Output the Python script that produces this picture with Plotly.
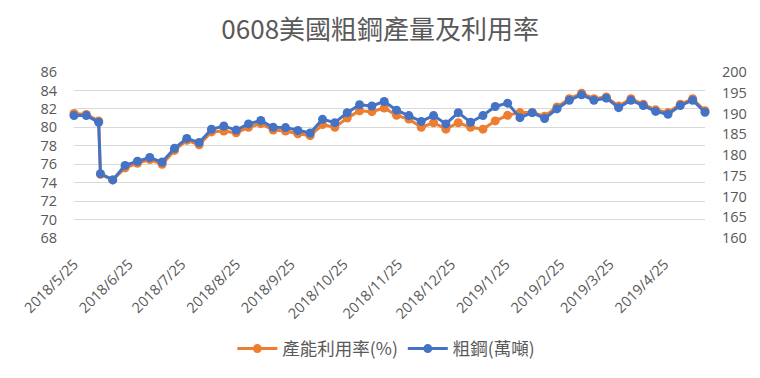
import plotly.graph_objects as go

dates = [
    "2018-05-25", "2018-06-01", "2018-06-08", "2018-06-09", "2018-06-16",
    "2018-06-23", "2018-06-30", "2018-07-07", "2018-07-14", "2018-07-21",
    "2018-07-28", "2018-08-04", "2018-08-11", "2018-08-18", "2018-08-25",
    "2018-09-01", "2018-09-08", "2018-09-15", "2018-09-22", "2018-09-29",
    "2018-10-06", "2018-10-13", "2018-10-20", "2018-10-27", "2018-11-03",
    "2018-11-10", "2018-11-17", "2018-11-24", "2018-12-01", "2018-12-08",
    "2018-12-15", "2018-12-22", "2018-12-29", "2019-01-05", "2019-01-12",
    "2019-01-19", "2019-01-26", "2019-02-02", "2019-02-09", "2019-02-16",
    "2019-02-23", "2019-03-02", "2019-03-09", "2019-03-16", "2019-03-23",
    "2019-03-30", "2019-04-06", "2019-04-13", "2019-04-20", "2019-04-27",
    "2019-05-04", "2019-05-11", "2019-05-18",
]

utilization = [
    81.5, 81.4, 80.7, 74.9, 74.3, 75.6, 76.1, 76.5, 76.0, 77.5,
    78.6, 78.1, 79.5, 79.6, 79.4, 80.0, 80.4, 79.7, 79.6, 79.3,
    79.1, 80.3, 80.0, 81.0, 81.8, 81.7, 82.1, 81.3, 80.9, 80.0,
    80.5, 79.8, 80.5, 80.0, 79.8, 80.7, 81.3, 81.6, 81.6, 81.2,
    82.2, 83.1, 83.7, 83.1, 83.3, 82.3, 83.1, 82.5, 81.9, 81.6,
    82.5, 83.1, 81.8,
]

crude_steel = [
    189.5, 189.5, 187.9, 175.5, 174.0, 177.5, 178.5, 179.4, 178.3, 181.6,
    184.0, 183.0, 186.2, 187.0, 186.0, 187.5, 188.3, 186.7, 186.6, 185.9,
    185.3, 188.6, 187.8, 190.2, 192.1, 191.8, 192.9, 190.8, 189.5, 188.1,
    189.5, 187.5, 190.2, 187.9, 189.5, 191.7, 192.5, 189.0, 190.2, 188.8,
    191.1, 193.2, 194.5, 193.2, 193.7, 191.4, 193.2, 191.9, 190.5, 189.8,
    191.9, 193.2, 190.3,
]

tick_dates = [
    "2018-05-25", "2018-06-25", "2018-07-25", "2018-08-25", "2018-09-25",
    "2018-10-25", "2018-11-25", "2018-12-25", "2019-01-25", "2019-02-25",
    "2019-03-25", "2019-04-25",
]
tick_labels = [
    "2018/5/25", "2018/6/25", "2018/7/25", "2018/8/25", "2018/9/25",
    "2018/10/25", "2018/11/25", "2018/12/25", "2019/1/25", "2019/2/25",
    "2019/3/25", "2019/4/25",
]

ORANGE = "#ED7D31"
BLUE = "#4472C4"
FONT = "Noto Sans CJK TC"
TICKFONT = dict(family="Open Sans", size=14.5, color="#595959")

fig = go.Figure()
fig.add_trace(go.Scatter(
    x=dates, y=utilization, name="產能利用率(%)", mode="lines+markers",
    line=dict(color=ORANGE, width=3), marker=dict(color=ORANGE, size=9),
    cliponaxis=False, yaxis="y",
))
fig.add_trace(go.Scatter(
    x=dates, y=crude_steel, name="粗鋼(萬噸)", mode="lines+markers",
    line=dict(color=BLUE, width=3), marker=dict(color=BLUE, size=9),
    cliponaxis=False, yaxis="y2",
))

fig.update_layout(
    width=752, height=370,
    margin=dict(l=62, r=55, t=64, b=138),
    paper_bgcolor="white", plot_bgcolor="white",
    font=dict(family=FONT, color="#595959", size=14),
    title=dict(text="0608美國粗鋼產量及利用率", x=0.495, xanchor="center",
               y=0.94, yref="container", yanchor="middle",
               font=dict(family=FONT, size=26, color="#595959")),
    showlegend=True,
    legend=dict(orientation="h", x=0.495, xanchor="center", y=-0.667,
                yanchor="middle", font=dict(family=FONT, size=17.5, color="#595959"),
                itemwidth=40, tracegroupgap=0),
    xaxis=dict(type="date", range=["2018-05-25", "2019-05-18"],
               tickvals=tick_dates, ticktext=tick_labels, tickangle=-45,
               showgrid=False, zeroline=False, showline=False, ticks="",
               ticklabelstandoff=14, tickfont=TICKFONT),
    yaxis=dict(range=[68, 86], dtick=2, showgrid=True, gridcolor="#D9D9D9",
               gridwidth=1, zeroline=False, showline=False, ticks="",
               ticklabelstandoff=16, tickfont=TICKFONT),
    yaxis2=dict(range=[160, 200], dtick=5, overlaying="y", side="right",
                showgrid=False, zeroline=False, showline=False, ticks="",
                ticklabelstandoff=16, tickfont=TICKFONT),
)

fig.write_html("out.html")
